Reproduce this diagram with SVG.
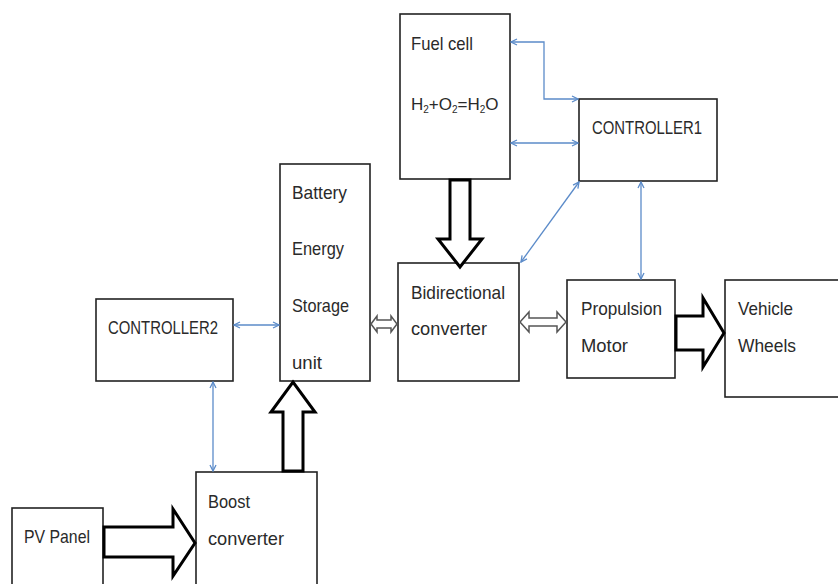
<svg xmlns="http://www.w3.org/2000/svg" width="838" height="584" viewBox="0 0 838 584">
<style>
.box{fill:#fff;stroke:#222;stroke-width:1.6}
.t{font-family:"Liberation Sans",Arial,sans-serif;font-size:19px;fill:#2a2a2a}
.sig{fill:none;stroke:#5b8bc9;stroke-width:1.3}
.big{fill:#fff;stroke:#000;stroke-width:3;stroke-linejoin:miter}
.small{fill:#fff;stroke:#555;stroke-width:1.5}
</style>
<defs>
<marker id="ah" viewBox="0 0 8 8" refX="7" refY="4" markerWidth="8" markerHeight="8" markerUnits="userSpaceOnUse" orient="auto-start-reverse">
<path d="M1,1 L7,4 L1,7" fill="none" stroke="#5b8bc9" stroke-width="1.3"/>
</marker>
</defs>
<rect width="838" height="584" fill="#fff"/>
<g id="fuelcell">
<rect class="box" x="400" y="14" width="110" height="165"/>
<text class="t" x="411" y="50" textLength="62" lengthAdjust="spacingAndGlyphs">Fuel cell</text>
<text class="t" x="411" y="110" style="font-size:17px">H<tspan font-size="10" dy="3">2</tspan><tspan dy="-3">+O</tspan><tspan font-size="10" dy="3">2</tspan><tspan dy="-3">=H</tspan><tspan font-size="10" dy="3">2</tspan><tspan dy="-3">O</tspan></text>
</g>
<g id="controller1">
<rect class="box" x="579" y="99" width="138" height="82"/>
<text class="t" x="592" y="134" textLength="110" lengthAdjust="spacingAndGlyphs">CONTROLLER1</text>
</g>
<g id="battery">
<rect class="box" x="280" y="164" width="90" height="217"/>
<text class="t" x="292" y="199" textLength="55" lengthAdjust="spacingAndGlyphs">Battery</text>
<text class="t" x="292" y="255" textLength="52" lengthAdjust="spacingAndGlyphs">Energy</text>
<text class="t" x="292" y="312" textLength="57" lengthAdjust="spacingAndGlyphs">Storage</text>
<text class="t" x="292" y="369" textLength="30" lengthAdjust="spacingAndGlyphs">unit</text>
</g>
<g id="bidirectional">
<rect class="box" x="398" y="263" width="121" height="118"/>
<text class="t" x="411" y="299" textLength="94" lengthAdjust="spacingAndGlyphs">Bidirectional</text>
<text class="t" x="411" y="335" textLength="76" lengthAdjust="spacingAndGlyphs">converter</text>
</g>
<g id="propulsion">
<rect class="box" x="567" y="280" width="108" height="98"/>
<text class="t" x="581" y="315" textLength="81" lengthAdjust="spacingAndGlyphs">Propulsion</text>
<text class="t" x="581" y="352" textLength="47" lengthAdjust="spacingAndGlyphs">Motor</text>
</g>
<g id="wheels">
<rect class="box" x="725" y="280" width="125" height="117"/>
<text class="t" x="738" y="315" textLength="55" lengthAdjust="spacingAndGlyphs">Vehicle</text>
<text class="t" x="738" y="352" textLength="58" lengthAdjust="spacingAndGlyphs">Wheels</text>
</g>
<g id="controller2">
<rect class="box" x="96" y="299" width="137" height="82"/>
<text class="t" x="108" y="334" textLength="110" lengthAdjust="spacingAndGlyphs">CONTROLLER2</text>
</g>
<g id="boost">
<rect class="box" x="196" y="472" width="121" height="130"/>
<text class="t" x="208" y="508" textLength="42" lengthAdjust="spacingAndGlyphs">Boost</text>
<text class="t" x="208" y="545" textLength="76" lengthAdjust="spacingAndGlyphs">converter</text>
</g>
<g id="pvpanel">
<rect class="box" x="12" y="508" width="91" height="90"/>
<text class="t" x="24" y="543" textLength="66" lengthAdjust="spacingAndGlyphs">PV Panel</text>
</g>
<g id="connectors">
<polyline class="sig" points="511,42 544,42 544,99 578,99" marker-start="url(#ah)" marker-end="url(#ah)"/>
<line class="sig" x1="511" y1="143" x2="578" y2="143" marker-start="url(#ah)" marker-end="url(#ah)"/>
<line class="sig" x1="579" y1="182" x2="521" y2="262" marker-start="url(#ah)" marker-end="url(#ah)"/>
<line class="sig" x1="641" y1="182" x2="641" y2="279" marker-start="url(#ah)" marker-end="url(#ah)"/>
<line class="sig" x1="234" y1="325" x2="279" y2="325" marker-start="url(#ah)" marker-end="url(#ah)"/>
<line class="sig" x1="213" y1="382" x2="213" y2="471" marker-start="url(#ah)" marker-end="url(#ah)"/>
<polygon class="big" points="450,180 470,180 470,239 482,239 460,267 438,239 450,239"/>
<polygon class="big" points="283,471 303,471 303,412 315,412 293,382 271,412 283,412"/>
<polygon class="big" points="104,527 173,527 173,509 195,543 173,576 173,557 104,557"/>
<polygon class="big" points="676,316 703,316 703,298 724,333 703,367 703,350 676,350"/>
<polygon class="small" points="371,324 377,316 377,320 391,320 391,316 397,324 391,332 391,328 377,328 377,332"/>
<polygon class="small" points="520,322 529,312 529,318 557,318 557,312 566,322 557,332 557,326 529,326 529,332"/>
</g>
</svg>
